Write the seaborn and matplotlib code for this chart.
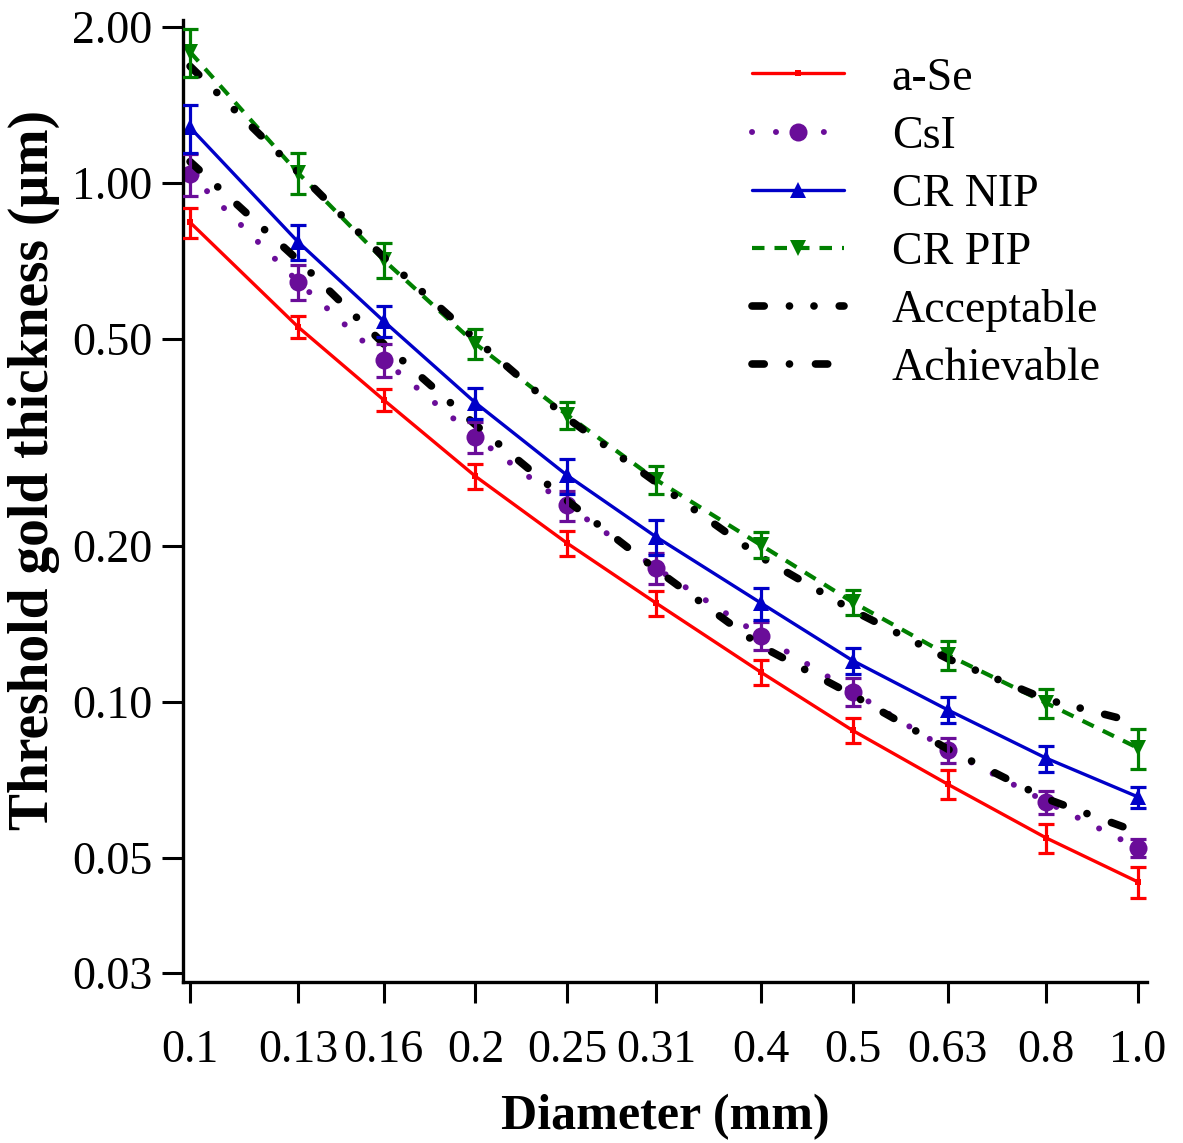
import numpy as np
import pandas as pd
import matplotlib
matplotlib.use("Agg")
import matplotlib.pyplot as plt
import seaborn as sns
from matplotlib.lines import Line2D
from matplotlib.ticker import FixedLocator, NullLocator

# ---------------- data ----------------
diameter = [0.1, 0.13, 0.16, 0.2, 0.25, 0.31, 0.4, 0.5, 0.63, 0.8, 1.0]
x_tick_labels = ["0.1", "0.13", "0.16", "0.2", "0.25", "0.31", "0.4", "0.5", "0.63", "0.8", "1.0"]
y_ticks = [0.03, 0.05, 0.10, 0.20, 0.50, 1.00, 2.00]
y_tick_labels = ["0.03", "0.05", "0.10", "0.20", "0.50", "1.00", "2.00"]

a_se = [0.84, 0.528, 0.382, 0.272, 0.202, 0.155, 0.114, 0.088, 0.0693, 0.0546, 0.0449]
a_se_err = [0.055, 0.026, 0.019, 0.015, 0.011, 0.0085, 0.0063, 0.0048, 0.0045, 0.0035, 0.0031]

csi = [1.04, 0.645, 0.456, 0.324, 0.239, 0.181, 0.134, 0.1045, 0.0807, 0.0641, 0.0522]
csi_err = [0.097, 0.05, 0.034, 0.022, 0.016, 0.0125, 0.0083, 0.0065, 0.0044, 0.0033, 0.0021]

cr_nip = [1.28, 0.77, 0.542, 0.377, 0.273, 0.208, 0.155, 0.120, 0.0964, 0.0778, 0.0655]
cr_nip_err = [0.137, 0.06, 0.037, 0.026, 0.021, 0.016, 0.011, 0.007, 0.0056, 0.0045, 0.003]

cr_pip = [1.79, 1.046, 0.711, 0.49, 0.357, 0.268, 0.2005, 0.1556, 0.123, 0.0994, 0.0814]
cr_pip_err = [0.19, 0.095, 0.054, 0.033, 0.022, 0.017, 0.0115, 0.0087, 0.008, 0.0066, 0.0072]

acceptable = [1.68, 1.05, 0.72, 0.50, 0.352, 0.265, 0.19, 0.150, 0.121, 0.101, 0.091]
achievable = [1.10, 0.71, 0.49, 0.342, 0.244, 0.18, 0.128, 0.103, 0.081, 0.065, 0.056]

# ---------------- style ----------------
sns.set_style("ticks")
plt.rcParams["font.family"] = ["Liberation Serif", "DejaVu Serif"]
plt.rcParams["text.color"] = "black"
plt.rcParams["axes.labelcolor"] = "black"
plt.rcParams["xtick.color"] = "black"
plt.rcParams["ytick.color"] = "black"

fig = plt.figure(figsize=(11.83, 11.43), dpi=100)
ax = fig.add_axes([183 / 1183, 1 - 982 / 1143, (1147 - 183) / 1183, (982 - 20) / 1143])

RED = "#ff0000"
PURPLE = "#6a0d99"
BLUE = "#0000c8"
GREEN = "#008000"

series = [
    ("a-Se", a_se, a_se_err, RED, "s", 5, "-", 2.4),
    ("CsI", csi, csi_err, PURPLE, "o", 13, (0, (0.01, 4.0)), 4.3),
    ("CR NIP", cr_nip, cr_nip_err, BLUE, "^", 11, "-", 2.4),
    ("CR PIP", cr_pip, cr_pip_err, GREEN, "v", 11, (0, (3.0, 2.4)), 3.0),
]

handles = []
for name, vals, errs, col, mk, ms, ls, lw in series:
    df = pd.DataFrame({"d": diameter, "t": vals})
    sns.lineplot(data=df, x="d", y="t", ax=ax, color=col, marker=mk,
                 markersize=ms, markeredgewidth=0, linewidth=lw, errorbar=None,
                 legend=False)
    ln = ax.lines[-1]
    ln.set_linestyle(ls)
    if name == "CsI":
        ln.set_dash_capstyle("round")
    ax.errorbar(diameter, vals, yerr=errs, fmt="none", ecolor=col,
                elinewidth=2.3, capsize=6, capthick=2.3, zorder=3)
    h = Line2D([], [], color=col, marker=mk, markersize=ms, markeredgewidth=0,
               linewidth=lw, linestyle=ls)
    if name == "CsI":
        h.set_dash_capstyle("round")
    handles.append(h)

acc_ls = (0, (1.6, 3.3, 0.01, 3.2, 0.01, 3.3))
ach_ls = (0, (1.6, 3.3, 0.01, 3.4))
for name, vals, ls in [("Acceptable", acceptable, acc_ls), ("Achievable", achievable, ach_ls)]:
    df = pd.DataFrame({"d": diameter, "t": vals})
    sns.lineplot(data=df, x="d", y="t", ax=ax, color="black", linewidth=5.5,
                 errorbar=None, legend=False)
    ln = ax.lines[-1]
    ln.set_linestyle(ls)
    ln.set_dash_capstyle("round")
    ln.set_zorder(2.5)
    h = Line2D([], [], color="black", linewidth=5.5, linestyle=ls)
    h.set_dash_capstyle("round")
    handles.append(h)

labels = ["a-Se", "CsI", "CR NIP", "CR PIP", "Acceptable", "Achievable"]

ax.set_xscale("log")
ax.set_yscale("log")
ax.set_xlim(0.0983, 1.022)
ax.set_ylim(0.0288, 2.063)

ax.xaxis.set_major_locator(FixedLocator(diameter))
ax.xaxis.set_minor_locator(NullLocator())
ax.set_xticklabels(x_tick_labels)
ax.yaxis.set_major_locator(FixedLocator(y_ticks))
ax.yaxis.set_minor_locator(NullLocator())
ax.set_yticklabels(y_tick_labels)

ax.tick_params(axis="x", direction="out", length=15, width=2.2, labelsize=33, pad=19, colors="black")
ax.tick_params(axis="y", direction="out", length=15, width=2.2, labelsize=33, pad=7, colors="black")

for s in ["top", "right"]:
    ax.spines[s].set_visible(False)
for s in ["left", "bottom"]:
    ax.spines[s].set_linewidth(2.4)
    ax.spines[s].set_color("black")

ax.set_xlabel("Diameter (mm)", fontsize=36, fontweight="bold", labelpad=16, color="black")
ax.set_ylabel("Threshold gold thickness (\u00b5m)", fontsize=40, fontweight="bold", color="black")
ax.yaxis.set_label_coords(-0.128, 0.532)

leg = fig.legend(handles, labels, loc="upper left",
                 bbox_to_anchor=(752 / 1183, 1 - 57 / 1143),
                 frameon=False, fontsize=33, handlelength=2.0, handletextpad=1.05,
                 labelspacing=0.34, borderpad=0, borderaxespad=0)
for t in leg.get_texts():
    t.set_color("black")

fig.savefig("out.png", dpi=100)
